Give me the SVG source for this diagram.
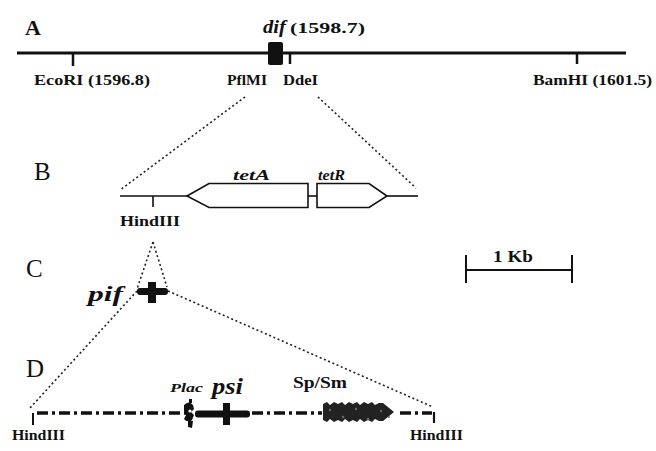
<svg xmlns="http://www.w3.org/2000/svg" width="656" height="451" viewBox="0 0 656 451" font-family="Liberation Serif, Times New Roman, Times, serif">
<style>
text{fill:#111;}
.b{font-weight:bold;}
.bi{font-weight:bold;font-style:italic;}
.lab{font-size:15px;font-weight:bold;}
.panel{font-size:25px;}
.dot{fill:none;stroke:#222;stroke-width:1.6;stroke-dasharray:2 2.6;}
.line{stroke:#111;fill:none;}
.dd{stroke:#111;stroke-width:3.5;fill:none;stroke-dasharray:11 4 3 4;}
</style>
<rect width="656" height="451" fill="#fff"/>

<g id="panelA">
  <text x="25" y="35" class="b" style="font-size:22px">A</text>
  <line x1="17" y1="53" x2="626" y2="53" class="line" stroke-width="3.2"/>
  <line x1="73" y1="53" x2="73" y2="66" class="line" stroke-width="2.5"/>
  <line x1="290" y1="53" x2="290" y2="64" class="line" stroke-width="2.5"/>
  <line x1="577" y1="53" x2="577" y2="64" class="line" stroke-width="2.5"/>
  <rect x="268" y="42" width="15" height="23" rx="2" fill="#111"/>
  <text x="263" y="33" class="bi" style="font-size:19px" textLength="23" lengthAdjust="spacingAndGlyphs">dif</text>
  <text x="290" y="33" class="b" style="font-size:14px" textLength="75" lengthAdjust="spacingAndGlyphs">(1598.7)</text>
  <text x="34" y="85" class="lab" textLength="116" lengthAdjust="spacingAndGlyphs">EcoRI (1596.8)</text>
  <text x="227" y="85" class="lab" textLength="40" lengthAdjust="spacingAndGlyphs">PflMI</text>
  <text x="283" y="85" class="lab" textLength="35" lengthAdjust="spacingAndGlyphs">DdeI</text>
  <text x="533" y="85" class="lab" textLength="119" lengthAdjust="spacingAndGlyphs">BamHI (1601.5)</text>
</g>

<g id="connectors">
  <line x1="245" y1="97" x2="120" y2="190" class="dot"/>
  <line x1="318" y1="97" x2="416" y2="188" class="dot"/>
  <line x1="153" y1="242" x2="137" y2="289" class="dot"/>
  <line x1="153" y1="242" x2="167" y2="287" class="dot"/>
  <line x1="137" y1="291" x2="30" y2="408" class="dot"/>
  <line x1="168" y1="291" x2="433" y2="407" class="dot"/>
</g>

<g id="panelB">
  <text x="34" y="180" class="panel">B</text>
  <line x1="120" y1="196" x2="187" y2="196" class="line" stroke-width="1.6"/>
  <line x1="387" y1="196" x2="418" y2="196" class="line" stroke-width="1.6"/>
  <line x1="308" y1="196" x2="317" y2="196" class="line" stroke-width="1.6"/>
  <line x1="153" y1="196" x2="153" y2="207" class="line" stroke-width="1.6"/>
  <path d="M187,196 L209,183.5 L308,183.5 L308,207.5 L209,207.5 Z" fill="#fff" stroke="#111" stroke-width="1.6"/>
  <path d="M317,183.5 L369,183.5 L387,196 L369,207.5 L317,207.5 Z" fill="#fff" stroke="#111" stroke-width="1.6"/>
  <text x="233" y="180" class="bi" style="font-size:15px" textLength="37" lengthAdjust="spacingAndGlyphs">tetA</text>
  <text x="318" y="180" class="bi" style="font-size:15px" textLength="27" lengthAdjust="spacingAndGlyphs">tetR</text>
  <text x="120" y="226" class="lab" textLength="60" lengthAdjust="spacingAndGlyphs">HindIII</text>
</g>

<g id="panelC">
  <text x="26" y="277" class="panel">C</text>
  <rect x="137" y="288" width="31" height="7" rx="3" fill="#111"/>
  <rect x="148" y="282" width="8" height="21" fill="#111"/>
  <text x="88" y="301" class="bi" style="font-size:22px" textLength="35" lengthAdjust="spacingAndGlyphs">pif</text>
</g>

<g id="scale">
  <line x1="466" y1="255" x2="466" y2="283" class="line" stroke-width="2"/>
  <line x1="572" y1="255" x2="572" y2="283" class="line" stroke-width="2"/>
  <line x1="466" y1="270" x2="572" y2="270" class="line" stroke-width="1.8"/>
  <text x="493" y="262" class="b" style="font-size:17px" textLength="40" lengthAdjust="spacingAndGlyphs">1 Kb</text>
</g>

<g id="panelD">
  <text x="26" y="377" class="panel">D</text>
  <line x1="33" y1="413" x2="33" y2="425" class="line" stroke-width="2"/>
  <line x1="37" y1="413" x2="186" y2="413" class="dd"/>
  <line x1="252" y1="413" x2="322" y2="413" class="dd"/>
  <line x1="400" y1="413" x2="432" y2="413" class="dd"/>
  <line x1="434" y1="412" x2="434" y2="423" class="line" stroke-width="2.2"/>
  <path d="M184,405 q5,-5 9,0 l1,4 l-3,3 l3,3 l-2,5 q-5,3 -8,-1 l2,-4 l-2,-4 z" fill="#111"/>
  <path d="M188,420 l5,1 l-1,7 l-4,-1 z" fill="#111"/>
  <path d="M189,399 l3,0 l0,4 l-3,0 z" fill="#111"/>
  <circle cx="190" cy="411" r="1.6" fill="#fff"/>
  <rect x="195" y="410.5" width="55" height="7" rx="3" fill="#111"/>
  <rect x="223" y="403" width="7" height="22" fill="#111"/>
  <text x="170" y="392" class="bi" style="font-size:13px" textLength="33" lengthAdjust="spacingAndGlyphs">Plac</text>
  <text x="212" y="394" class="bi" style="font-size:23px" textLength="31" lengthAdjust="spacingAndGlyphs">psi</text>
  <path d="M323,404 l4,-2 l3,3 l4,-3 l4,2 l4,-2 l3,3 l4,-3 l4,2 l4,-2 l3,3 l4,-3 l4,2 l4,-2 l3,3 l4,-2 l4,0 l11,9 l-11,9 l-4,0 l-4,-2 l-3,3 l-4,-2 l-4,2 l-4,-3 l-3,3 l-4,-2 l-4,2 l-4,-3 l-3,3 l-4,-2 l-4,2 l-4,-3 l-3,3 l-4,-2 z" fill="#222"/>
  <g fill="#666">
    <circle cx="330" cy="410" r="1.2"/><circle cx="343" cy="417" r="1.3"/><circle cx="356" cy="409" r="1.2"/>
    <circle cx="368" cy="419" r="1.3"/><circle cx="381" cy="411" r="1.2"/><circle cx="389" cy="417" r="1"/>
  </g>
  <text x="293" y="388" class="lab" style="font-size:16px" textLength="54" lengthAdjust="spacingAndGlyphs">Sp/Sm</text>
  <text x="12" y="440" class="lab" textLength="53" lengthAdjust="spacingAndGlyphs">HindIII</text>
  <text x="410" y="440" class="lab" textLength="53" lengthAdjust="spacingAndGlyphs">HindIII</text>
</g>
</svg>
